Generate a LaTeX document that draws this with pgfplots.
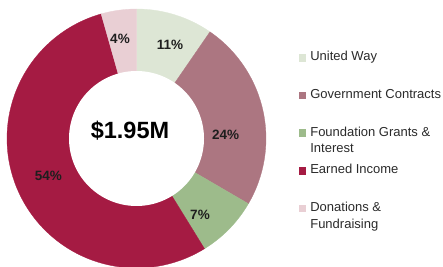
\documentclass[border=0pt]{standalone}
\usepackage{fontspec}
\setmainfont{Liberation Sans}
\usepackage{pgfplots}
\pgfplotsset{compat=1.18}
\definecolor{cUW}{HTML}{DDE6D5}
\definecolor{cGC}{HTML}{AC7681}
\definecolor{cFG}{HTML}{9DBB8B}
\definecolor{cEI}{HTML}{A51B43}
\definecolor{cDF}{HTML}{E9CFD4}
\definecolor{txt}{HTML}{1E1E1E}
\definecolor{legtxt}{HTML}{2A2A2A}
% shares of the total (percent), as drawn
\def\vUW{9.6}
\def\vGC{23.8}
\def\vFG{7.8}
\def\vEI{54.4}
\def\vDF{4.4}
\pgfmathsetmacro\aA{90}
\pgfmathsetmacro\aB{\aA-3.6*\vUW}
\pgfmathsetmacro\aC{\aB-3.6*\vGC}
\pgfmathsetmacro\aD{\aC-3.6*\vFG}
\pgfmathsetmacro\aE{\aD-3.6*\vEI}
\pgfmathsetmacro\aF{\aE-3.6*\vDF}
\def\cx{136.5}
\def\cy{127.5}
\def\Rout{129.5}
\def\Rin{67.5}
\begin{document}
\begin{tikzpicture}
\useasboundingbox (0,0) rectangle (443pt,266pt);
\begin{axis}[at={(0,0)}, anchor=south west, scale only axis,
  width=443pt, height=266pt, xmin=0, xmax=443, ymin=0, ymax=266,
  hide axis, clip=true,
  legend cell align=left,
  legend style={draw=none, fill=none, inner sep=0pt, column sep=5pt, row sep=0pt,
    at={(axis description cs:0.6734,0.8094)}, anchor=north west,
    font=\fontsize{13}{15.6}\selectfont, text=legtxt,
    nodes={inner sep=0pt, text height=10pt, text depth=27.6pt, anchor=base west}},
  legend image code/.code={\fill[#1] (0pt,0pt) rectangle (6.5pt,6.5pt);},
]
\addplot[fill=cUW, draw=cUW, line width=0.3pt, domain=\aB:\aA, samples=40, variable=\t]
  ({\cx+\Rout*cos(\t)},{\cy+\Rout*sin(\t)}) -- (axis cs:\cx,\cy) -- cycle;
\addlegendentry{United Way}
\addplot[fill=cGC, draw=cGC, line width=0.3pt, domain=\aC:\aB, samples=60, variable=\t]
  ({\cx+\Rout*cos(\t)},{\cy+\Rout*sin(\t)}) -- (axis cs:\cx,\cy) -- cycle;
\addlegendentry{Government Contracts}
\addplot[fill=cFG, draw=cFG, line width=0.3pt, domain=\aD:\aC, samples=30, variable=\t]
  ({\cx+\Rout*cos(\t)},{\cy+\Rout*sin(\t)}) -- (axis cs:\cx,\cy) -- cycle;
\addlegendentry{\parbox[t]{130pt}{\baselineskip=16.7pt Foundation Grants \&\\Interest}}
\addplot[fill=cEI, draw=cEI, line width=0.3pt, domain=\aE:\aD, samples=120, variable=\t]
  ({\cx+\Rout*cos(\t)},{\cy+\Rout*sin(\t)}) -- (axis cs:\cx,\cy) -- cycle;
\addlegendentry{Earned Income}
\addplot[fill=cDF, draw=cDF, line width=0.3pt, domain=\aF:\aE, samples=20, variable=\t]
  ({\cx+\Rout*cos(\t)},{\cy+\Rout*sin(\t)}) -- (axis cs:\cx,\cy) -- cycle;
\addlegendentry{\parbox[t]{130pt}{\baselineskip=16.7pt Donations \&\\Fundraising}}
\addplot[forget plot, fill=white, draw=none, domain=0:360, samples=150, variable=\t]
  ({\cx+\Rin*cos(\t)},{\cy+\Rin*sin(\t)}) -- cycle;
\node[font=\fontsize{13.5}{16}\selectfont\bfseries, text=txt] at (axis cs:170,221) {11\%};
\node[font=\fontsize{13.5}{16}\selectfont\bfseries, text=txt] at (axis cs:225.7,131) {24\%};
\node[font=\fontsize{13.5}{16}\selectfont\bfseries, text=txt] at (axis cs:200,51) {7\%};
\node[font=\fontsize{13.5}{16}\selectfont\bfseries, text=txt] at (axis cs:48.3,90) {54\%};
\node[font=\fontsize{13.5}{16}\selectfont\bfseries, text=txt] at (axis cs:120,226.7) {4\%};
\node[font=\fontsize{23.5}{27}\selectfont\bfseries, text=black] at (axis cs:130,135) {\$1.95M};
\end{axis}
\end{tikzpicture}
\end{document}
